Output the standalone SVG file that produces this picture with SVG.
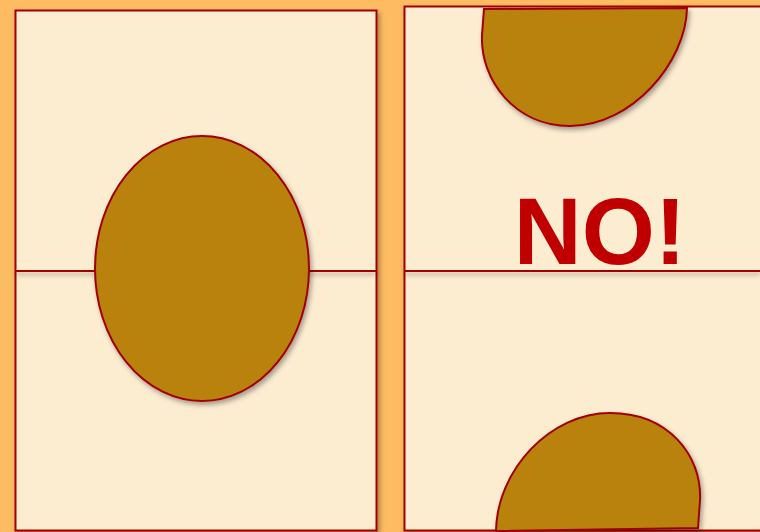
<svg xmlns="http://www.w3.org/2000/svg" width="760" height="532" viewBox="0 0 760 532">
  <defs>
    <filter id="sh" x="-20%" y="-20%" width="140%" height="140%">
      <feDropShadow dx="2" dy="3" stdDeviation="2.5" flood-color="#000" flood-opacity="0.35"/>
    </filter>
    <filter id="shl" filterUnits="userSpaceOnUse" x="0" y="0" width="760" height="532">
      <feDropShadow dx="0" dy="3" stdDeviation="2" flood-color="#000" flood-opacity="0.35"/>
    </filter>
    <style>
      .panel { fill: #FCEDD1; stroke: #A00000; stroke-width: 2; }
      .cut { stroke: #A00000; stroke-width: 2; fill: none; }
      .egg { fill: #B8820E; stroke: #A00000; stroke-width: 2; }
      .no { font-family: "Liberation Sans", Arial, sans-serif; font-weight: bold; font-size: 94px; fill: #C00000; }
    </style>
  </defs>
  <rect x="0" y="0" width="760" height="532" fill="#FDBB62"/>

  <g id="left-panel">
    <rect class="panel" x="15.5" y="10.5" width="361" height="520" filter="url(#sh)"/>
    <line class="cut" x1="15.5" y1="271" x2="376.5" y2="271" filter="url(#shl)"/>
    <ellipse class="egg" cx="202" cy="268.5" rx="107" ry="132.5" filter="url(#sh)"/>
  </g>

  <g id="right-panel">
    <rect class="panel" x="404.5" y="6.5" width="365" height="524" filter="url(#sh)"/>
    <line class="cut" x1="404.5" y1="271" x2="760" y2="271" filter="url(#shl)"/>
    <path class="egg" d="M484,9 L687,8 C686,62 632,126 570,126 C515,126 480,80 482,35 Z" filter="url(#sh)"/>
    <path class="egg" d="M496,531 C497,470 550,413 610,413 C668,413 702,455 700,500 L698,528 Z" filter="url(#sh)"/>
    <text class="no" x="600" y="264" text-anchor="middle">NO!</text>
  </g>
</svg>
